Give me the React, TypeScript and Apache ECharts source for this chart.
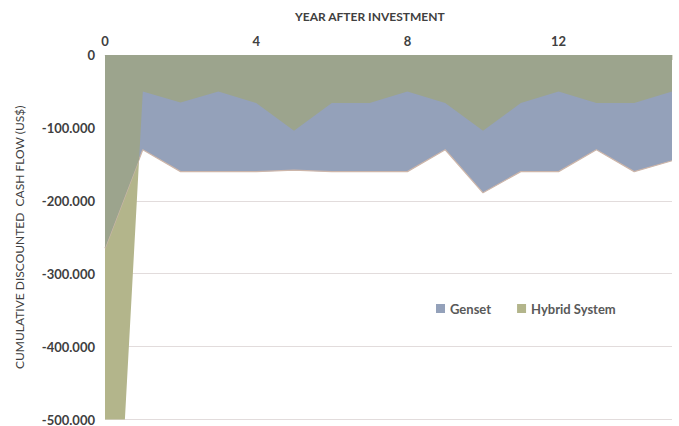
import React, { useEffect, useRef } from "react";
import * as echarts from "echarts";

const years = [0, 1, 2, 3, 4, 5, 6, 7, 8, 9, 10, 11, 12, 13, 14, 15];
const genset = [-265000, -130000, -160000, -160000, -160000, -158000, -160000, -160000, -160000, -130000, -189000, -160000, -160000, -130000, -160000, -145000];
const hybrid = [-1000000, -50000, -65000, -50000, -66000, -104000, -66000, -66000, -50000, -66000, -104000, -66000, -50000, -66000, -66000, -50000];
const xTickLabels = ["0", "4", "8", "12"];
const yTickLabels = ["0", "-100.000", "-200.000", "-300.000", "-400.000", "-500.000"];

// upper envelope (overlap of both areas), with crossing points inserted
function overlap(): number[][] {
  const out: number[][] = [];
  for (let i = 0; i < years.length; i++) {
    out.push([years[i], Math.max(genset[i], hybrid[i])]);
    if (i < years.length - 1) {
      const d0 = hybrid[i] - genset[i];
      const d1 = hybrid[i + 1] - genset[i + 1];
      if (d0 * d1 < 0) {
        const t = d0 / (d0 - d1);
        const x = years[i] + t * (years[i + 1] - years[i]);
        const y = genset[i] + t * (genset[i + 1] - genset[i]);
        out.push([x, y]);
      }
    }
  }
  return out;
}

export default function App() {
  const ref = useRef<HTMLDivElement>(null);
  useEffect(() => {
    if (!ref.current) return;
    const chart = echarts.init(ref.current, null, { renderer: "svg" });
    const font = "Lato, 'Open Sans', sans-serif";
    chart.setOption({
      animation: false,
      grid: { left: 105, right: 7, top: 55, bottom: 6 },
      graphic: [
        {
          type: "text",
          left: 295,
          top: 10,
          style: {
            text: "YEAR AFTER INVESTMENT",
            font: `bold 12px ${font}`,
            fill: "#404040",
          },
        },
      ],
      legend: {
        left: 431,
        top: 297,
        icon: "rect",
        itemWidth: 9,
        itemHeight: 9,
        itemGap: 26,
        data: ["Genset", "Hybrid System"],
        textStyle: { fontFamily: font, fontSize: 13, fontWeight: "bold", color: "#595959" },
      },
      xAxis: {
        type: "value",
        position: "top",
        min: 0,
        max: 15,
        interval: 1,
        axisLine: { show: true, lineStyle: { color: "#e3e3e3", width: 1 } },
        axisTick: { show: true, inside: true, length: 5, lineStyle: { color: "#dcdcd0" } },
        splitLine: { show: false },
        axisLabel: {
          color: "#404040",
          fontFamily: font,
          fontWeight: "bold",
          fontSize: 13,
          margin: 8,
          formatter: (v: number) => (xTickLabels.includes(String(v)) ? String(v) : ""),
        },
      },
      yAxis: {
        type: "value",
        min: -500000,
        max: 0,
        interval: 100000,
        name: "CUMULATIVE DISCOUNTED  CASH FLOW (US$)",
        nameLocation: "middle",
        nameGap: 80,
        nameTextStyle: { color: "#404040", fontFamily: font, fontSize: 12 },
        axisLine: { show: false },
        axisTick: { show: false },
        splitLine: { lineStyle: { color: "#e2dcdc", width: 1 } },
        axisLabel: {
          color: "#404040",
          fontFamily: font,
          fontWeight: "bold",
          fontSize: 13,
          margin: 10,
          formatter: (v: number) => yTickLabels[Math.round(-v / 100000)] ?? "",
        },
      },
      series: [
        {
          name: "Hybrid System",
          type: "line",
          data: years.map((x, i) => [x, hybrid[i]]),
          symbol: "none",
          lineStyle: { width: 0 },
          areaStyle: { color: "#b3b58b", opacity: 1 },
          itemStyle: { color: "#b3b58b" },
          z: 1,
        },
        {
          name: "Genset",
          type: "line",
          data: years.map((x, i) => [x, genset[i]]),
          symbol: "none",
          lineStyle: { width: 1.2, color: "#cdb6aa" },
          areaStyle: { color: "#94a1ba", opacity: 1 },
          itemStyle: { color: "#94a1ba" },
          z: 2,
        },
        {
          name: "overlap",
          type: "line",
          data: overlap(),
          symbol: "none",
          lineStyle: { width: 0 },
          areaStyle: { color: "#9ca48d", opacity: 1 },
          itemStyle: { color: "#9ca48d" },
          z: 3,
        },
      ],
    });
    return () => chart.dispose();
  }, []);
  return <div ref={ref} style={{ width: 679, height: 426, position: "absolute", left: 0, top: 0 }} />;
}
